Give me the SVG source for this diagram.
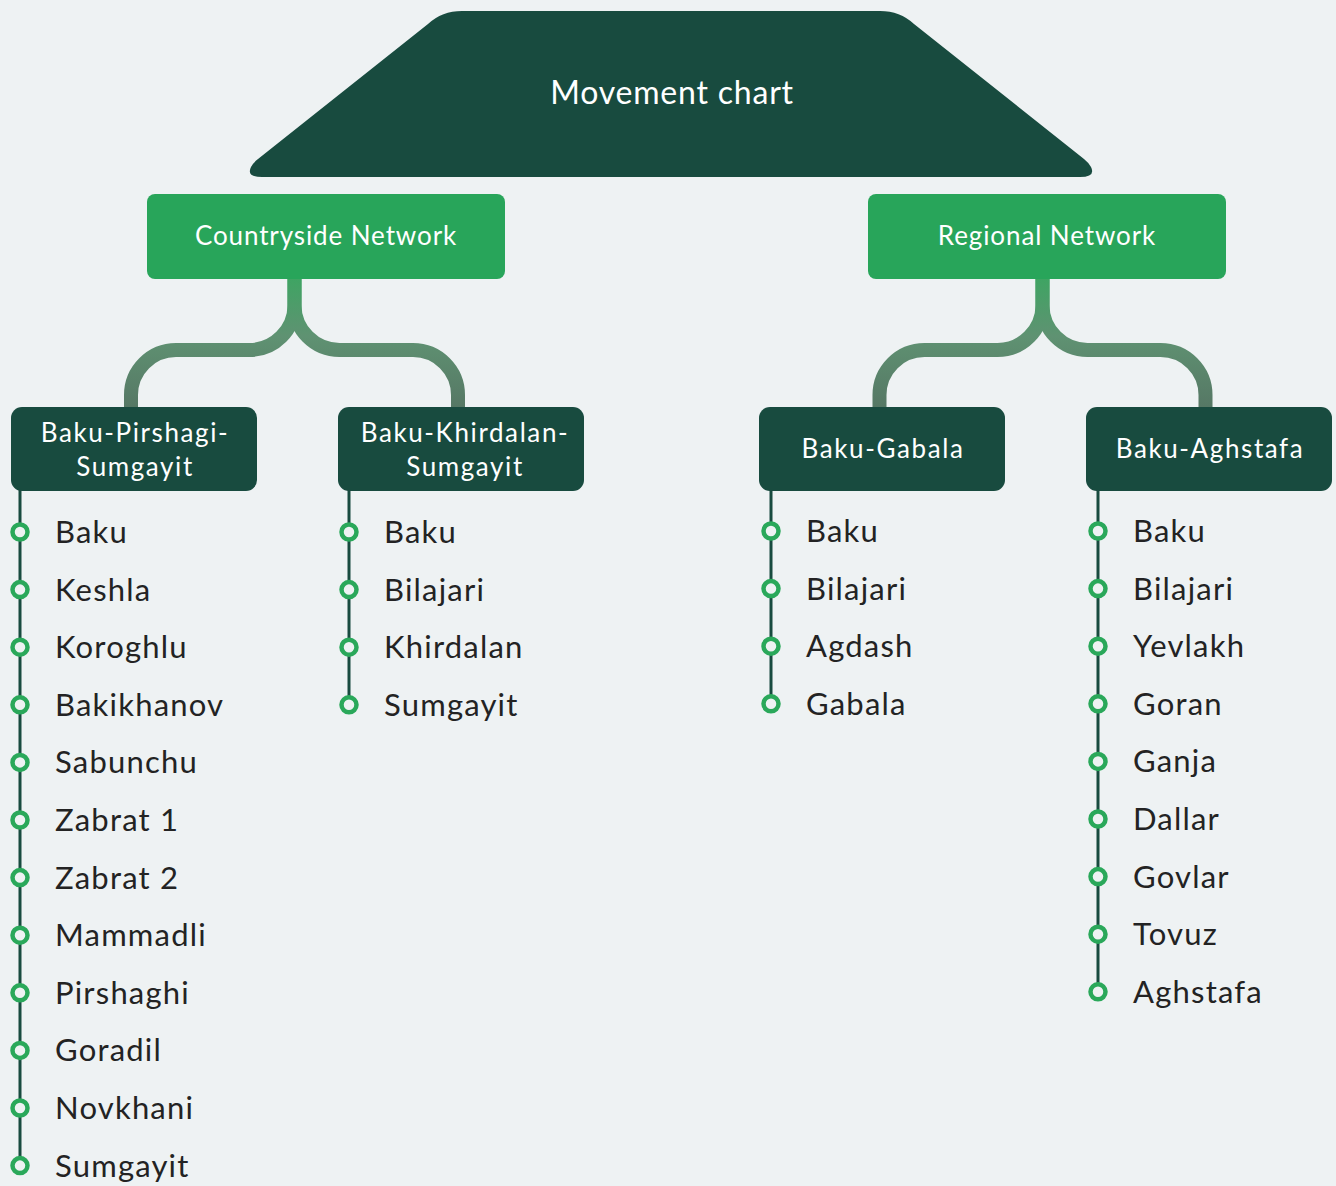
<svg xmlns="http://www.w3.org/2000/svg" width="1336" height="1186" viewBox="0 0 1336 1186">
<defs>
<linearGradient id="cg" gradientUnits="userSpaceOnUse" x1="0" y1="279" x2="0" y2="406">
<stop offset="0" stop-color="#3fa463"/>
<stop offset="0.45" stop-color="#5f9272"/>
<stop offset="1" stop-color="#567865"/>
</linearGradient>
<style>
.root{fill:#184b3f}
.l1{fill:#28a55a}
.l2{fill:#184b3f}
.t{font-family:Lato,"Noto Sans",sans-serif;fill:#ffffff;text-anchor:middle}
.tt{font-size:32px;letter-spacing:0.8px}
.t1{font-size:26px;letter-spacing:0.9px}
.t2{font-size:26px;letter-spacing:1.6px}
.conn{fill:none;stroke:url(#cg);stroke-width:14}
.rail{stroke:#184b3f;stroke-width:3}
.dot{fill:#eef2f3;stroke:#2aa85a;stroke-width:4.5}
.it{font-family:Lato,"Noto Sans",sans-serif;font-size:31px;letter-spacing:1.2px;fill:#232323}
</style>
</defs>
<rect width="1336" height="1186" fill="#eef2f3"/>

<g id="connectors">
<path class="conn" d="M294.5 279 V305 A45 45 0 0 1 249.5 350 H176 A45 45 0 0 0 131 395 V408"/>
<path class="conn" d="M294.5 279 V305 A45 45 0 0 0 339.5 350 H413 A45 45 0 0 1 458 395 V408"/>
<path class="conn" d="M1042.5 279 V305 A45 45 0 0 1 997.5 350 H924.5 A45 45 0 0 0 879.5 395 V408"/>
<path class="conn" d="M1042.5 279 V305 A45 45 0 0 0 1087.5 350 H1160.5 A45 45 0 0 1 1205.5 395 V408"/>
<line class="rail" x1="20" y1="490" x2="20" y2="1165.6"/>
<line class="rail" x1="349" y1="490" x2="349" y2="704.8"/>
<line class="rail" x1="771" y1="490" x2="771" y2="703.8"/>
<line class="rail" x1="1098" y1="490" x2="1098" y2="991.8"/>
</g>

<g id="root">
<path class="root" d="M262 177 Q246 177 251 167 Q253 163 258 159 L428 24 Q442 11 462 11 L880 11 Q900 11 914 24 L1084 159 Q1089 163 1091 167 Q1096 177 1080 177 Z"/>
<text class="t tt" x="672" y="104">Movement chart</text>
</g>

<g id="countryside">
<rect class="l1" x="147" y="194" width="358" height="85" rx="8"/>
<text class="t t1" x="326" y="245">Countryside Network</text>
</g>
<g id="regional">
<rect class="l1" x="868" y="194" width="358" height="85" rx="8"/>
<text class="t t1" x="1047" y="245">Regional Network</text>
</g>

<g id="baku-pirshagi-sumgayit">
<rect class="l2" x="11" y="407" width="246" height="84" rx="11"/>
<text class="t t2" x="135" y="442">Baku-Pirshagi-</text>
<text class="t t2" x="135" y="476">Sumgayit</text>
</g>
<g id="baku-khirdalan-sumgayit">
<rect class="l2" x="338" y="407" width="246" height="84" rx="11"/>
<text class="t t2" x="465" y="442">Baku-Khirdalan-</text>
<text class="t t2" x="465" y="476">Sumgayit</text>
</g>
<g id="baku-gabala">
<rect class="l2" x="759" y="407" width="246" height="84" rx="11"/>
<text class="t t2" x="883" y="458">Baku-Gabala</text>
</g>
<g id="baku-aghstafa">
<rect class="l2" x="1086" y="407" width="246" height="84" rx="11"/>
<text class="t t2" x="1210" y="458">Baku-Aghstafa</text>
</g>

<g id="list-pirshagi">
<circle class="dot" cx="20" cy="532" r="7.5"/><text class="it" x="55" y="543">Baku</text>
<circle class="dot" cx="20" cy="589.6" r="7.5"/><text class="it" x="55" y="600.6">Keshla</text>
<circle class="dot" cx="20" cy="647.2" r="7.5"/><text class="it" x="55" y="658.2">Koroghlu</text>
<circle class="dot" cx="20" cy="704.8" r="7.5"/><text class="it" x="55" y="715.8">Bakikhanov</text>
<circle class="dot" cx="20" cy="762.4" r="7.5"/><text class="it" x="55" y="773.4">Sabunchu</text>
<circle class="dot" cx="20" cy="820" r="7.5"/><text class="it" x="55" y="831">Zabrat 1</text>
<circle class="dot" cx="20" cy="877.6" r="7.5"/><text class="it" x="55" y="888.6">Zabrat 2</text>
<circle class="dot" cx="20" cy="935.2" r="7.5"/><text class="it" x="55" y="946.2">Mammadli</text>
<circle class="dot" cx="20" cy="992.8" r="7.5"/><text class="it" x="55" y="1003.8">Pirshaghi</text>
<circle class="dot" cx="20" cy="1050.4" r="7.5"/><text class="it" x="55" y="1061.4">Goradil</text>
<circle class="dot" cx="20" cy="1108" r="7.5"/><text class="it" x="55" y="1119">Novkhani</text>
<circle class="dot" cx="20" cy="1165.6" r="7.5"/><text class="it" x="55" y="1176.6">Sumgayit</text>
</g>
<g id="list-khirdalan">
<circle class="dot" cx="349" cy="532" r="7.5"/><text class="it" x="384" y="543">Baku</text>
<circle class="dot" cx="349" cy="589.6" r="7.5"/><text class="it" x="384" y="600.6">Bilajari</text>
<circle class="dot" cx="349" cy="647.2" r="7.5"/><text class="it" x="384" y="658.2">Khirdalan</text>
<circle class="dot" cx="349" cy="704.8" r="7.5"/><text class="it" x="384" y="715.8">Sumgayit</text>
</g>
<g id="list-gabala">
<circle class="dot" cx="771" cy="531" r="7.5"/><text class="it" x="806" y="542">Baku</text>
<circle class="dot" cx="771" cy="588.6" r="7.5"/><text class="it" x="806" y="599.6">Bilajari</text>
<circle class="dot" cx="771" cy="646.2" r="7.5"/><text class="it" x="806" y="657.2">Agdash</text>
<circle class="dot" cx="771" cy="703.8" r="7.5"/><text class="it" x="806" y="714.8">Gabala</text>
</g>
<g id="list-aghstafa">
<circle class="dot" cx="1098" cy="531" r="7.5"/><text class="it" x="1133" y="542">Baku</text>
<circle class="dot" cx="1098" cy="588.6" r="7.5"/><text class="it" x="1133" y="599.6">Bilajari</text>
<circle class="dot" cx="1098" cy="646.2" r="7.5"/><text class="it" x="1133" y="657.2">Yevlakh</text>
<circle class="dot" cx="1098" cy="703.8" r="7.5"/><text class="it" x="1133" y="714.8">Goran</text>
<circle class="dot" cx="1098" cy="761.4" r="7.5"/><text class="it" x="1133" y="772.4">Ganja</text>
<circle class="dot" cx="1098" cy="819" r="7.5"/><text class="it" x="1133" y="830">Dallar</text>
<circle class="dot" cx="1098" cy="876.6" r="7.5"/><text class="it" x="1133" y="887.6">Govlar</text>
<circle class="dot" cx="1098" cy="934.2" r="7.5"/><text class="it" x="1133" y="945.2">Tovuz</text>
<circle class="dot" cx="1098" cy="991.8" r="7.5"/><text class="it" x="1133" y="1002.8">Aghstafa</text>
</g>
</svg>
